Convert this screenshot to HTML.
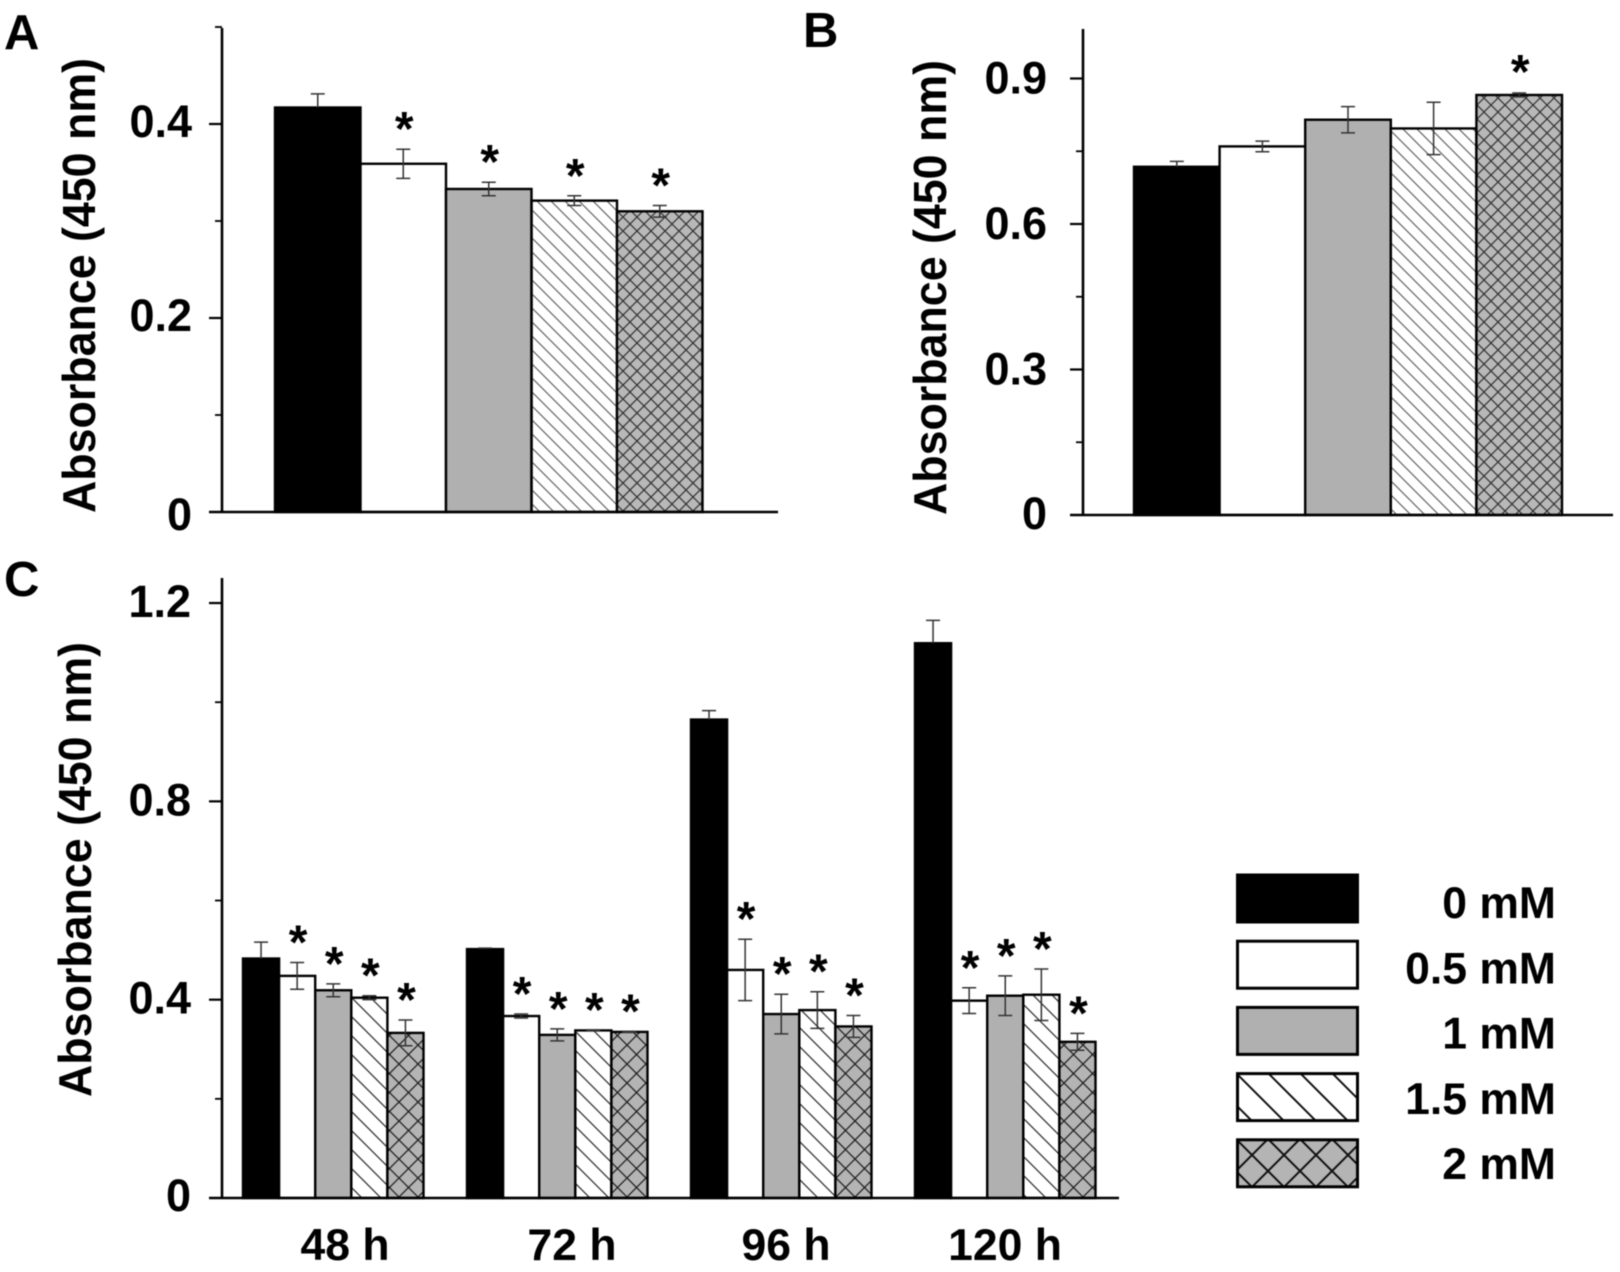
<!DOCTYPE html>
<html lang="en">
<head>
<meta charset="utf-8">
<title>Absorbance bar charts</title>
<style>
html,body{margin:0;padding:0;background:#fff;width:1620px;height:1272px;overflow:hidden}
svg{display:block;font-family:"Liberation Sans",Arial,sans-serif;font-weight:bold;fill:#000;filter:blur(0.4px)}
</style>
</head>
<body>
<svg id="figure" xmlns="http://www.w3.org/2000/svg" width="1620" height="1272" viewBox="0 0 1620 1272">
  <defs>
    <pattern id="hatch-fine" patternUnits="userSpaceOnUse" width="14" height="14">
      <path d="M-2 -2L16 16M-2 12L2 16M12 -2L16 2" stroke="#666" stroke-width="1.2" fill="none"/>
    </pattern>
    <pattern id="cross-fine" patternUnits="userSpaceOnUse" width="14" height="14">
      <rect width="14" height="14" fill="#b8b8b8"/>
      <path d="M-2 -2L16 16M-2 12L2 16M12 -2L16 2M-2 16L16 -2M-2 2L2 -2M12 16L16 12" stroke="#333" stroke-width="1.2" fill="none"/>
    </pattern>
    <pattern id="hatch-mid" patternUnits="userSpaceOnUse" width="19" height="19">
      <path d="M-2 -2L21 21M-2 17L2 21M17 -2L21 2" stroke="#333" stroke-width="1.3" fill="none"/>
    </pattern>
    <pattern id="cross-mid" patternUnits="userSpaceOnUse" width="19" height="19">
      <rect width="19" height="19" fill="#b4b4b4"/>
      <path d="M-2 -2L21 21M-2 17L2 21M17 -2L21 2M-2 21L21 -2M-2 2L2 -2M17 21L21 17" stroke="#222" stroke-width="1.3" fill="none"/>
    </pattern>
    <pattern id="hatch-large" patternUnits="userSpaceOnUse" width="32" height="32" patternTransform="translate(1229 874)">
      <path d="M-2 -2L34 34M-2 30L2 34M30 -2L34 2" stroke="#111" stroke-width="2" fill="none"/>
    </pattern>
    <pattern id="cross-large" patternUnits="userSpaceOnUse" width="32" height="32" patternTransform="translate(1236 1139)">
      <rect width="32" height="32" fill="#b4b4b4"/>
      <path d="M-2 -2L34 34M-2 30L2 34M30 -2L34 2M-2 34L34 -2M-2 2L2 -2M30 34L34 30" stroke="#111" stroke-width="2" fill="none"/>
    </pattern>
  </defs>
  <g id="plot-root"></g>
  <g text-anchor="middle" font-size="44.5">
    <text class="x-label" x="345" y="1260">48 h</text>
    <text class="x-label" x="572" y="1260">72 h</text>
    <text class="x-label" x="786" y="1260">96 h</text>
    <text class="x-label" x="1005" y="1260">120 h</text>
  </g>
</svg>
<script>
// ---- Chart data ----
const concentrations = ['0 mM', '0.5 mM', '1 mM', '1.5 mM', '2 mM'];

const panelAValues = [0.417, 0.359, 0.333, 0.321, 0.310];
const panelAErrors = [0.014, 0.015, 0.007, 0.005, 0.006];
const panelASignificant = [false, true, true, true, true];
const panelATicks = [0, 0.2, 0.4];
const panelAMinorTicks = [0.1, 0.3, 0.5];
const panelATickLabels = ['0', '0.2', '0.4'];

const panelBValues = [0.718, 0.760, 0.815, 0.797, 0.866];
const panelBErrors = [0.011, 0.011, 0.027, 0.054, 0.004];
const panelBSignificant = [false, false, false, false, true];
const panelBTicks = [0, 0.3, 0.6, 0.9];
const panelBMinorTicks = [0.15, 0.45, 0.75];
const panelBTickLabels = ['0', '0.3', '0.6', '0.9'];

const timepoints = ['48 h', '72 h', '96 h', '120 h'];
const panelC48Values = [0.483, 0.448, 0.419, 0.404, 0.333];
const panelC48Errors = [0.033, 0.027, 0.013, 0.004, 0.026];
const panelC72Values = [0.502, 0.367, 0.329, 0.338, 0.335];
const panelC72Errors = [0.002, 0.004, 0.012, 0.001, 0.001];
const panelC96Values = [0.965, 0.460, 0.371, 0.379, 0.346];
const panelC96Errors = [0.018, 0.062, 0.040, 0.037, 0.022];
const panelC120Values = [1.119, 0.398, 0.408, 0.410, 0.315];
const panelC120Errors = [0.046, 0.026, 0.040, 0.052, 0.017];
const panelCSignificant = [false, true, true, true, true];
const panelCTicks = [0, 0.4, 0.8, 1.2];
const panelCMinorTicks = [0.2, 0.6, 1.0];
const panelCTickLabels = ['0', '0.4', '0.8', '1.2'];

// ---- Drawing helpers ----
const NS = 'http://www.w3.org/2000/svg';
const root = document.getElementById('plot-root');
function make(tag, attrs, parent) {
  const node = document.createElementNS(NS, tag);
  for (const k in attrs) node.setAttribute(k, attrs[k]);
  (parent || root).appendChild(node);
  return node;
}
function linearY(zeroY, unitPx) { return v => zeroY - v * unitPx; }

function drawAxes(slug, o) {
  const g = make('g', {});
  
  
  const yLine = make('line', {x1: o.axisX, x2: o.axisX, y1: o.topY, y2: o.zeroY, stroke: '#000', 'stroke-width': 2.6}, g);
  
  
  const xLine = make('line', {x1: o.axisX - 13, x2: o.endX, y1: o.zeroY, y2: o.zeroY, stroke: '#000', 'stroke-width': 2.6}, g);
  
  
  o.ticks.forEach((t, i) => {
    if (t !== 0) {
      const tick = make('line', {x1: o.axisX - 13, x2: o.axisX, y1: o.y(t), y2: o.y(t), stroke: '#000', 'stroke-width': 2.2}, g);
      
      
    }
    const label = make('text', {x: o.axisX - o.labelGap, y: o.y(t) + (t === 0 ? o.zeroLabelDrop : o.labelDrop), 'text-anchor': 'end', 'font-size': 45}, g);
    label.textContent = o.tickLabels[i];
    
    
  });
  o.minor.forEach(t => {
    const tick = make('line', {x1: o.axisX - 7, x2: o.axisX, y1: o.y(t), y2: o.y(t), stroke: '#000', 'stroke-width': 1.8}, g);
    
    
  });
  const title = make('text', {transform: 'translate(' + o.titleX + ' ' + o.titleY + ') rotate(-90)', 'font-size': 46, textLength: 455, lengthAdjust: 'spacingAndGlyphs'}, g);
  title.textContent = 'Absorbance (450 nm)';
  
  
}

function fillFor(seriesIndex, hatch, cross) {
  return ['#000', '#fff', '#b0b0b0', 'url(#' + hatch + ')', 'url(#' + cross + ')'][seriesIndex];
}

function drawBar(slug, s, x, w, value, err, sig, y, zeroY, hatch, cross, starGap) {
  const top = y(value);
  const bar = make('rect', {x: x, y: top, width: w, height: zeroY - top, fill: fillFor(s, hatch, cross), stroke: '#000', 'stroke-width': 2.4});
  
  
  const cx = x + w / 2;
  const upper = y(value + err);
  const lower = s === 0 ? top : y(value - err);
  const eb = make('path', {d: 'M' + cx + ' ' + lower + 'V' + upper + 'M' + (cx - 7) + ' ' + upper + 'H' + (cx + 7) + (s === 0 ? '' : 'M' + (cx - 7) + ' ' + lower + 'H' + (cx + 7)), fill: 'none', stroke: '#333', 'stroke-width': 1.5});
  
  
  if (sig) {
    const star = make('text', {x: cx + 1, y: upper - starGap + 26, 'text-anchor': 'middle', 'font-size': 48});
    star.textContent = '*';
    
    
  }
}

// ---- Panel A ----
const yA = linearY(512, 970);
panelAValues.forEach((v, s) => {
  drawBar('panel-a', s, 275 + s * 85.5, 85.5, v, panelAErrors[s], panelASignificant[s], yA, 512, 'hatch-fine', 'cross-fine', 30);
});
drawAxes('panel-a', {axisX: 222, topY: 28, zeroY: 512, endX: 778, y: yA, ticks: panelATicks, minor: panelAMinorTicks, tickLabels: panelATickLabels, titleX: 95, titleY: 513, labelGap: 30, labelDrop: 13, zeroLabelDrop: 18});

// ---- Panel B ----
const yB = linearY(515, 485);
panelBValues.forEach((v, s) => {
  drawBar('panel-b', s, 1134 + s * 85.6, 85.6, v, panelBErrors[s], panelBSignificant[s], yB, 515, 'hatch-fine', 'cross-fine', 31);
});
drawAxes('panel-b', {axisX: 1083, topY: 29, zeroY: 515, endX: 1613, y: yB, ticks: panelBTicks, minor: panelBMinorTicks, tickLabels: panelBTickLabels, titleX: 946, titleY: 515, labelGap: 36, labelDrop: 15, zeroLabelDrop: 14});

// ---- Panel C ----
const yC = linearY(1198, 495.8);
const panelCGroupValues = [panelC48Values, panelC72Values, panelC96Values, panelC120Values];
const panelCGroupErrors = [panelC48Errors, panelC72Errors, panelC96Errors, panelC120Errors];
panelCGroupValues.forEach((vals, g) => {
  vals.forEach((v, s) => {
    drawBar('panel-c-' + timepoints[g].replace(' ', ''), s, 243 + g * 224 + s * 36.1, 36.1, v, panelCGroupErrors[g][s], panelCSignificant[s], yC, 1198, 'hatch-mid', 'cross-mid', 30);
  });
});
drawAxes('panel-c', {axisX: 222, topY: 578, zeroY: 1198, endX: 1119, y: yC, ticks: panelCTicks, minor: panelCMinorTicks, tickLabels: panelCTickLabels, titleX: 91, titleY: 1097, labelGap: 31, labelDrop: 14, zeroLabelDrop: 13});
document.querySelectorAll('.x-label').forEach((node, g) => { node.textContent = timepoints[g]; });

// ---- Panel letters ----
[['A', 4, 49], ['B', 803, 47], ['C', 4, 596]].forEach(p => {
  const letter = make('text', {x: p[1], y: p[2], 'font-size': 49});
  letter.textContent = p[0];
  
  
});

// ---- Legend ----
const legend = make('g', {});


concentrations.forEach((c, s) => {
  const top = 875 + s * 66.2;
  const swatch = make('rect', {x: 1237.5, y: top, width: 120, height: 47, fill: fillFor(s, 'hatch-large', 'cross-large'), stroke: '#000', 'stroke-width': 3}, legend);
  
  
  const text = make('text', {x: 1556, y: 918 + s * 65.3, 'text-anchor': 'end', 'font-size': 44.5}, legend);
  text.textContent = c;
  
  
});
</script>
</body>
</html>
